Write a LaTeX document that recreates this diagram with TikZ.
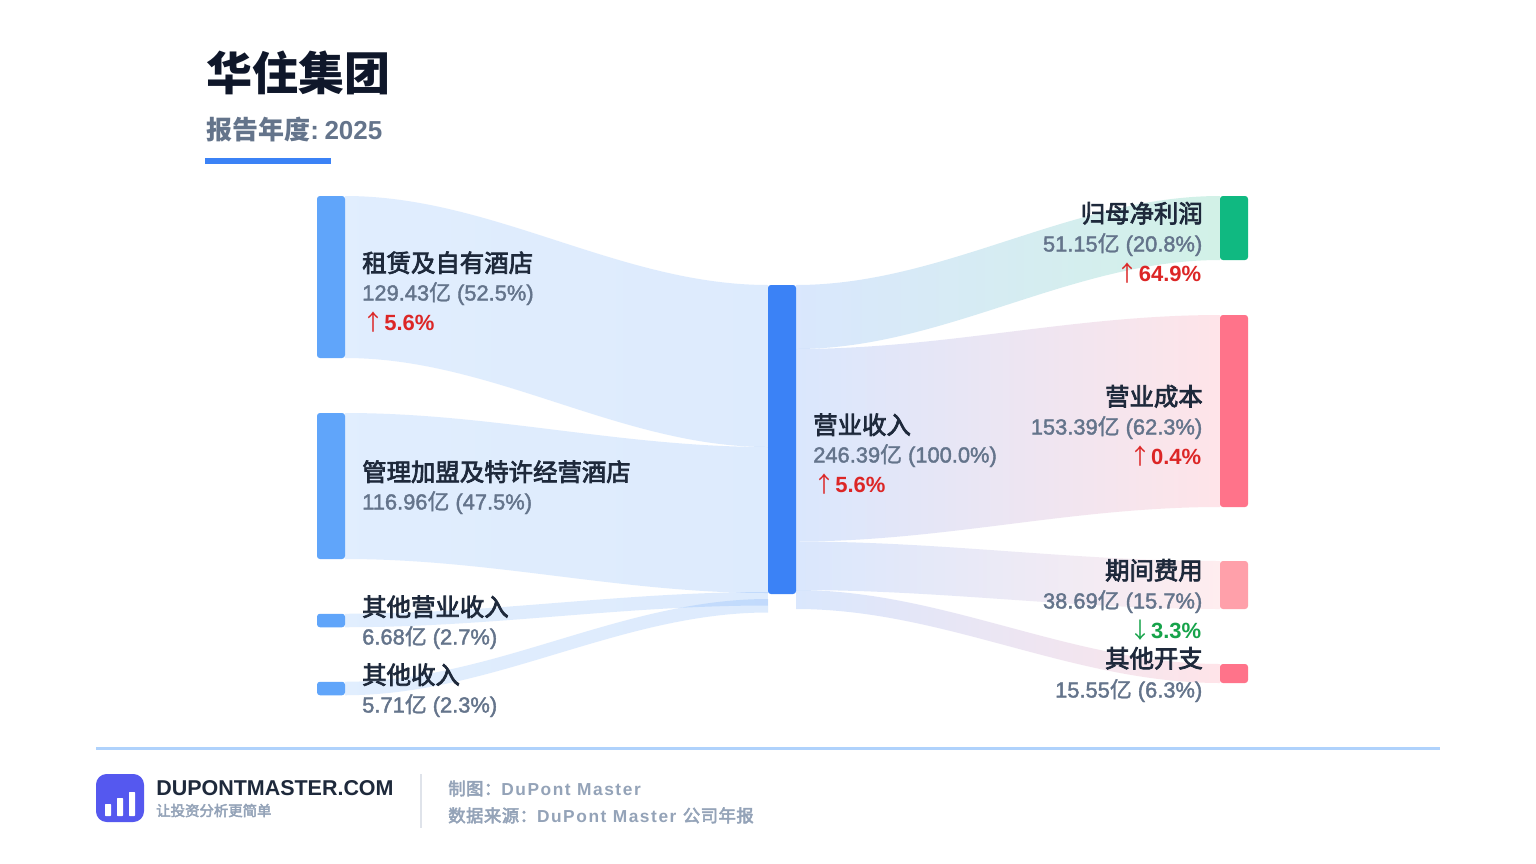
\documentclass[tikz,border=0pt]{standalone}
\usepackage{fontspec}
\setmainfont{Liberation Sans}
\newfontfamily\cjk{Noto Sans CJK SC}
\newfontfamily\cjkmed[FakeBold=3]{Noto Sans CJK SC}
\newfontfamily\cjkvalue[FakeBold=1.5]{Noto Sans CJK SC}
\newfontfamily\valuefont[FakeBold=1.8]{Liberation Sans}
\newfontfamily\footlatin[LetterSpace=9]{Liberation Sans}
\newfontfamily\footcjk[LetterSpace=3,FakeBold=3]{Noto Sans CJK SC}
\usetikzlibrary{calc, backgrounds}

\definecolor{titleink}{HTML}{0F172A}
\definecolor{nameink}{HTML}{1E293B}
\definecolor{valueink}{HTML}{64748B}
\definecolor{footink}{HTML}{94A3B8}
\definecolor{upred}{HTML}{DC2626}
\definecolor{downgreen}{HTML}{16A34A}
\definecolor{barblue}{HTML}{60A5FA}
\definecolor{mainblue}{HTML}{3B82F6}
\definecolor{flowblue}{HTML}{4E95F8}
\definecolor{profitgreen}{HTML}{10B981}
\definecolor{costred}{HTML}{FF738A}
\definecolor{feepink}{HTML}{FFA0AA}
\definecolor{logoblue}{HTML}{5558EF}

% one flow: top start, bottom start, top end, bottom end, two control columns, colours
\newcommand{\flowband}[8]{%
  \path[left color=#7, right color=#8, fill opacity=0.19]
    (#1) .. controls (#5 |- #1) and (#6 |- #3) .. (#3)
    -- (#4) .. controls (#6 |- #4) and (#5 |- #2) .. (#2) -- cycle;}
\newcommand{\yi}{{\cjkvalue 亿}}
\newcommand{\up}{{\cjk\mdseries ↑}}
\newcommand{\down}{{\cjk\mdseries ↓}}

\begin{document}
\begin{tikzpicture}[
    x=0.75pt, y=-0.75pt,
    barnode/.style={rectangle, rounded corners=2.2pt, inner sep=0pt, outer sep=0pt,
        minimum width=21pt},
    barheight/.style={minimum height=#1*0.75pt},
    namelabel/.style={inner sep=0pt, text=nameink, font=\fontsize{18.3}{18}\selectfont\cjkmed},
    valuelabel/.style={inner sep=0pt, text=valueink, font=\fontsize{16.4}{18}\selectfont\valuefont},
    uplabel/.style={inner sep=0pt, text=upred, font=\fontsize{16.5}{18}\selectfont\bfseries},
    downlabel/.style={inner sep=0pt, text=downgreen, font=\fontsize{16.5}{18}\selectfont\bfseries},
    footlabel/.style={inner sep=0pt, anchor=base west, text=footink,
        font=\fontsize{13}{16}\selectfont\footlatin\bfseries},
    logobar/.style={fill=white, rounded corners=0.5pt}
]
\useasboundingbox (0,0) rectangle (1536,864);

% header
\node (title) [inner sep=0pt, anchor=base west, text=titleink,
    font=\fontsize{34.5}{36}\selectfont\cjk\bfseries] at (206,90) {华住集团};
\node (year) [inner sep=0pt, anchor=base west, text=valueink,
    font=\fontsize{19.5}{24}\selectfont\bfseries] at (206,139.5) {{\cjk 报告年度}:\kern-3pt{} 2025};
\node (underline) [inner sep=0pt, outer sep=0pt, fill=mainblue, minimum width=94.5pt,
    minimum height=4.5pt, anchor=north west] at (205,158) {};

% bars
\node (rent) [barnode, barheight=162, fill=barblue] at (331,277) {};
\node (franchise) [barnode, barheight=146, fill=barblue] at (331,486) {};
\node (otherop) [barnode, barheight=13.5, fill=barblue] at (331,620.5) {};
\node (otherinc) [barnode, barheight=13.5, fill=barblue] at (331,688.5) {};
\node (revenue) [barnode, barheight=309, fill=mainblue] at (782,439.5) {};
\node (profit) [barnode, barheight=64, fill=profitgreen] at (1234,228) {};
\node (cost) [barnode, barheight=192, fill=costred] at (1234,411) {};
\node (expense) [barnode, barheight=48, fill=feepink] at (1234,585) {};
\node (otherexp) [barnode, barheight=19, fill=costred] at (1234,673.5) {};

% flow ends on the revenue bar
\coordinate (ctlLa) at (493,0);
\coordinate (ctlLb) at (620,0);
\coordinate (ctlRa) at (944.4,0);
\coordinate (ctlRb) at (1071.6,0);
\coordinate (inA) at (revenue.north west);
\coordinate (inB) at ($(revenue.north west)+(0,162)$);
\coordinate (inC) at ($(revenue.north west)+(0,308)$);
\coordinate (inD) at ($(revenue.north west)+(0,307)$);
\coordinate (inE) at ($(revenue.north west)+(0,320.5)$);
\coordinate (inF) at ($(revenue.north west)+(0,314)$);
\coordinate (inG) at ($(revenue.north west)+(0,327.5)$);
\coordinate (outA) at (revenue.north east);
\coordinate (outB) at ($(revenue.north east)+(0,64)$);
\coordinate (outC) at ($(revenue.north east)+(0,256.5)$);
\coordinate (outD) at ($(revenue.north east)+(0,305)$);
\coordinate (outE) at ($(revenue.north east)+(0,324)$);

\begin{pgfonlayer}{background}
\fill[white] (0,0) rectangle (1536,864);
\flowband{rent.north east}{rent.south east}{inA}{inB}{ctlLa}{ctlLb}{barblue}{flowblue}
\flowband{franchise.north east}{franchise.south east}{inB}{inC}{ctlLa}{ctlLb}{barblue}{flowblue}
\flowband{otherop.north east}{otherop.south east}{inD}{inE}{ctlLa}{ctlLb}{barblue}{flowblue}
\flowband{otherinc.north east}{otherinc.south east}{inF}{inG}{ctlLa}{ctlLb}{barblue}{flowblue}
\flowband{outA}{outB}{profit.north west}{profit.south west}{ctlRa}{ctlRb}{mainblue}{profitgreen}
\flowband{outB}{outC}{cost.north west}{cost.south west}{ctlRa}{ctlRb}{mainblue}{costred}
\flowband{outC}{outD}{expense.north west}{expense.south west}{ctlRa}{ctlRb}{mainblue}{feepink}
\flowband{outD}{outE}{otherexp.north west}{otherexp.south west}{ctlRa}{ctlRb}{mainblue}{costred}
\end{pgfonlayer}

% left labels
\node (rentname) [namelabel, anchor=base west] at (362,272) {租赁及自有酒店};
\node (rentvalue) [valuelabel, anchor=base west] at (362,300.5) {129.43\yi{} (52.5\%)};
\node (rentchange) [uplabel, anchor=base west] at (362,330.5) {\up5.6\%};
\node (franchisename) [namelabel, anchor=base west] at (362,481) {管理加盟及特许经营酒店};
\node (franchisevalue) [valuelabel, anchor=base west] at (362,509.5) {116.96\yi{} (47.5\%)};
\node (otheropname) [namelabel, anchor=base west] at (362,616) {其他营业收入};
\node (otheropvalue) [valuelabel, anchor=base west] at (362,644.5) {6.68\yi{} (2.7\%)};
\node (otherincname) [namelabel, anchor=base west] at (362,684) {其他收入};
\node (otherincvalue) [valuelabel, anchor=base west] at (362,712.5) {5.71\yi{} (2.3\%)};

% centre labels
\node (revenuename) [namelabel, anchor=base west] at (813,434) {营业收入};
\node (revenuevalue) [valuelabel, anchor=base west] at (813,462.5) {246.39\yi{} (100.0\%)};
\node (revenuechange) [uplabel, anchor=base west] at (813,492.5) {\up5.6\%};

% right labels
\node (profitname) [namelabel, anchor=base east] at (1203,222.5) {归母净利润};
\node (profitvalue) [valuelabel, anchor=base east] at (1202.5,251.5) {51.15\yi{} (20.8\%)};
\node (profitchange) [uplabel, anchor=base east] at (1201.5,281.5) {\up64.9\%};
\node (costname) [namelabel, anchor=base east] at (1203,405.5) {营业成本};
\node (costvalue) [valuelabel, anchor=base east] at (1202.5,434.5) {153.39\yi{} (62.3\%)};
\node (costchange) [uplabel, anchor=base east] at (1201.5,464.5) {\up0.4\%};
\node (expensename) [namelabel, anchor=base east] at (1203,579.5) {期间费用};
\node (expensevalue) [valuelabel, anchor=base east] at (1202.5,608.5) {38.69\yi{} (15.7\%)};
\node (expensechange) [downlabel, anchor=base east] at (1201.5,638.5) {\down3.3\%};
\node (otherexpname) [namelabel, anchor=base east] at (1203,667.5) {其他开支};
\node (otherexpvalue) [valuelabel, anchor=base east] at (1202.5,697.5) {15.55\yi{} (6.3\%)};

% footer
\fill[fill=barblue!50] (96,746.5) rectangle (1440,749.5);
\node (logo) [inner sep=0pt, outer sep=0pt, fill=logoblue, rounded corners=8pt,
    minimum size=36pt] at (120,798) {};
\fill[logobar] (105,804) rectangle (111,816);
\fill[logobar] (117,798) rectangle (123,816);
\fill[logobar] (129,792) rectangle (135,816);
\node (brand) [inner sep=0pt, anchor=base west, text=nameink,
    font=\fontsize{16.1}{18}\selectfont\bfseries] at (156,795.5) {DUPONTMASTER.COM};
\node (slogan) [inner sep=0pt, anchor=base west, text=footink,
    font=\fontsize{10.8}{12}\selectfont\cjkmed] at (156,816) {让投资分析更简单};
\fill[fill=footink!30] (420,774) rectangle (422,828);
\node (maker) [footlabel] at (448,795) {{\footcjk\mdseries 制图：}DuPont Master};
\node (source) [footlabel] at (448,822) {{\footcjk\mdseries 数据来源：}DuPont Master {\footcjk\mdseries 公司年报}};
\end{tikzpicture}
\end{document}
